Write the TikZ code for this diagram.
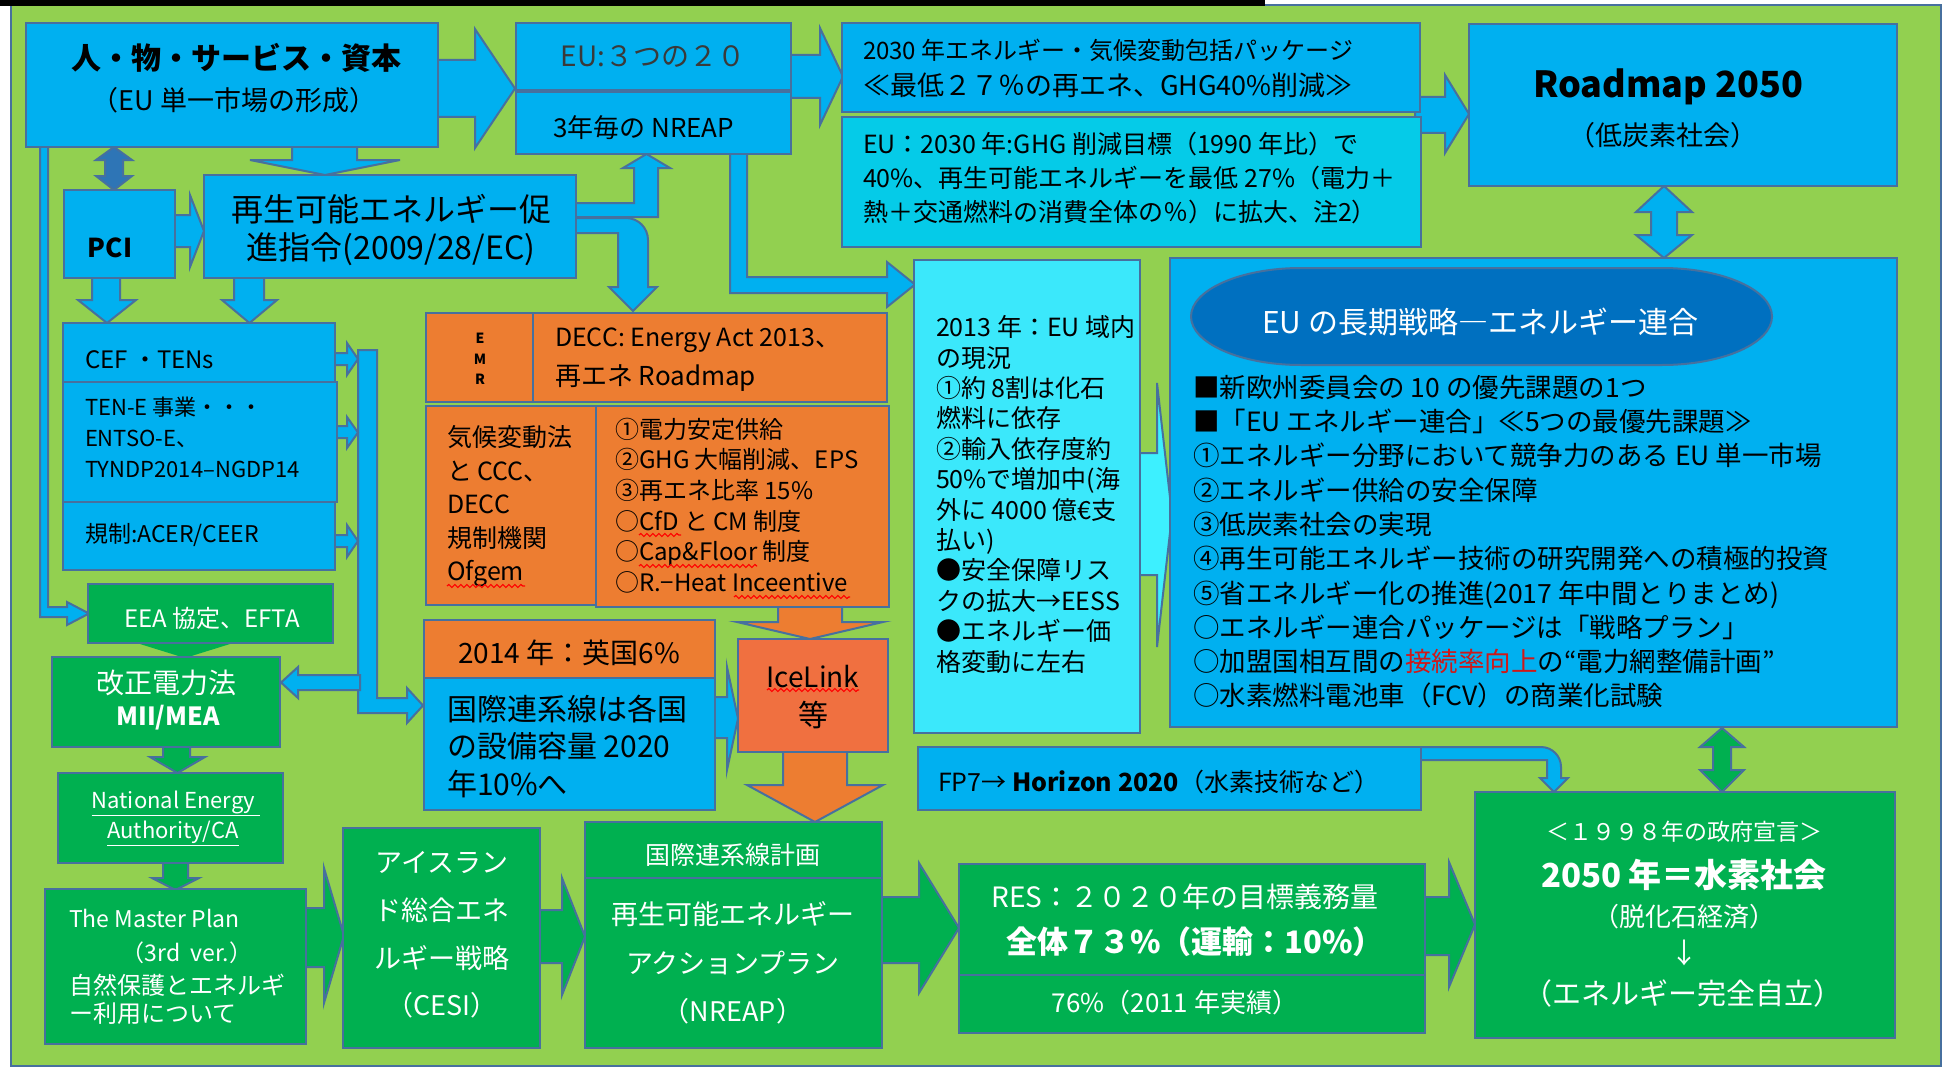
\documentclass[tikz,border=0pt]{standalone}
\usepackage{fontspec}
\setmainfont{Noto Sans CJK JP}
\usetikzlibrary{decorations.pathmorphing}
\definecolor{bg}{HTML}{92D050}
\definecolor{bl}{HTML}{00B0F0}
\definecolor{cyA}{HTML}{05CBE8}
\definecolor{cyB}{HTML}{3BE8FB}
\definecolor{cyC}{HTML}{3DF0FF}
\definecolor{orA}{HTML}{ED7D31}
\definecolor{orB}{HTML}{F07040}
\definecolor{gr}{HTML}{00B050}
\definecolor{db}{HTML}{0070C0}
\definecolor{dbA}{HTML}{2E75B6}
\definecolor{bc}{HTML}{47709E}
\definecolor{rd}{HTML}{D01818}
\definecolor{gt}{HTML}{3A3A3A}
\newcommand\fz[2]{\fontsize{#1}{#2}\selectfont}
\tikzset{
  box/.style={draw=bc, line width=2.5pt, anchor=north west, inner sep=0pt, outer sep=0pt},
  arr/.style={draw=bc, line width=2pt, line join=miter},
  txt/.style={inner sep=0pt, outer sep=0pt, text=black},
  wavy/.style={draw=red, line width=1.2pt, decorate, decoration={snake, amplitude=1.5pt, segment length=6pt}}
}
% box: name x1 y1 x2 y2 fill
\newcommand\bx[6]{\node[box, fill=#6, minimum width={#4-#2}, minimum height={#5-#3}] (#1) at (#2,#3) {};}
% right/left arrow: fill, start x, head base x, tip x, shaft y1, y2, head y1, y2
\newcommand\arrR[8]{\filldraw[arr,fill=#1] (#2,#5) -- (#3,#5) -- (#3,#7) -- ({#4},{(#7+#8)/2}) -- (#3,#8) -- (#3,#6) -- (#2,#6) -- cycle;}
% down/up arrow: fill, start y, head base y, tip y, shaft x1, x2, head x1, x2
\newcommand\arrD[8]{\filldraw[arr,fill=#1] (#5,#2) -- (#6,#2) -- (#6,#3) -- (#8,#3) -- ({(#7+#8)/2},{#4}) -- (#7,#3) -- (#5,#3) -- cycle;}
% vertical double arrow: fill, cx, top, headbase1, headbase2, bottom, shaft half, head half
\newcommand\dblV[8]{\filldraw[arr,fill=#1] (#2,#3) -- ({#2+#8},#4) -- ({#2+#7},#4) -- ({#2+#7},#5) -- ({#2+#8},#5) -- (#2,#6) -- ({#2-#8},#5) -- ({#2-#7},#5) -- ({#2-#7},#4) -- ({#2-#8},#4) -- cycle;}
\begin{document}
\begin{tikzpicture}[x=1pt,y=-1pt]
\useasboundingbox (0,0) rectangle (1948,1070);
\fill[white] (0,0) rectangle (1948,1070);
\filldraw[fill=bg, draw=bc, line width=2pt] (11,5) rectangle (1941,1066);
\fill[black] (0,0) rectangle (1265,6);

% ---------- arrows (drawn below boxes) ----------
\arrR{bl}{430}{475}{515}{60}{117}{29}{148}
\arrR{bl}{785}{820}{843}{55}{98}{28}{125}
\arrR{bl}{1415}{1445}{1469}{97}{133}{75}{153}
\arrD{bl}{140}{160}{175}{292}{357}{250}{400}
\dblV{dbA}{114}{147}{160}{176}{190}{9}{18}
\arrR{bl}{170}{190}{204}{215}{247}{195}{267}
\filldraw[arr,fill=bl] (570,203) -- (634,203) -- (634,168) -- (623,168) -- (646.5,154) -- (670,168) -- (658,168) -- (658,217) -- (570,217) -- cycle;
\filldraw[arr,fill=bl] (570,218) -- (626,218) to[out=0,in=90] (648,240) -- (648,287) -- (657,287) -- (633,311) -- (609,287) -- (618,287) -- (618,233) -- (570,233) -- cycle;
\arrD{bl}{275}{300}{323}{92}{120}{78}{136}
\arrD{bl}{275}{300}{323}{234}{264}{222}{277}
\filldraw[arr,fill=bl] (358,350) -- (377,350) -- (377,698) -- (407,698) -- (407,688) -- (423,705.5) -- (407,723) -- (407,713) -- (358,713) -- cycle;
\arrR{bl}{330}{347}{358}{353}{365}{343}{375}
\arrR{bl}{330}{347}{358}{426}{438}{417}{448}
\arrR{bl}{330}{347}{358}{535}{547}{525}{557}
\arrR{bl}{360}{298}{281}{675}{690}{667}{698}
\filldraw[arr,fill=bl] (40,140) -- (48,140) -- (48,607) -- (67,607) -- (67,602) -- (89,613.5) -- (67,625) -- (67,617) -- (40,617) -- cycle;
\dblV{bl}{1664}{186}{212}{235}{258}{13}{28}
\filldraw[arr,fill=bl] (1415,747) -- (1541,747) to[out=0,in=90] (1561,767) -- (1561,778) -- (1568,778) -- (1554,792) -- (1540,778) -- (1547,778) -- (1547,760) -- (1415,760) -- cycle;
\filldraw[arr,fill=bl] (730,150) -- (747,150) -- (747,277) -- (887,277) -- (887,262) -- (915,284.5) -- (887,307) -- (887,293) -- (730,293) -- cycle;
\arrR{cyC}{1135}{1157}{1172}{453}{575}{383}{647}
\arrR{bl}{710}{727}{738}{697}{738}{667}{770}
\fill[gr] (157,638) -- (203,638) -- (203,644) -- (230,644) -- (185,658) -- (140,644) -- (157,644) -- cycle;
\arrD{gr}{745}{757}{773}{163}{190}{150}{205}
\arrD{gr}{861}{878}{890}{163}{188}{152}{199}
\arrR{gr}{300}{324}{344}{908}{967}{868}{1003}
\arrR{gr}{535}{562}{585}{910}{963}{878}{995}
\arrR{gr}{877}{919}{959}{897}{963}{863}{993}
\arrR{gr}{1420}{1449}{1475}{897}{955}{862}{987}
\dblV{gr}{1722}{728}{747}{770}{792}{9}{22}
\arrD{orA}{600}{622}{639}{778}{842}{737}{883}
\arrD{orA}{748}{785}{822}{783}{847}{747}{883}

% ---------- boxes ----------
\bx{b1}{26}{23}{438}{147}{bl}
\bx{eu3}{516}{23}{791}{90}{bl}
\bx{nreap3}{516}{92}{791}{154}{bl}
\bx{pk2030}{842}{23}{1420}{112}{bl}
\bx{eu2030}{842}{117}{1421}{247}{cyA}
\bx{road}{1469}{24}{1897}{186}{bl}
\bx{pci}{64}{190}{175}{278}{bl}
\bx{red}{204}{175}{576}{278}{bl}
\bx{cef}{63}{323}{335}{382}{bl}
\bx{tene}{63}{382}{337}{502}{bl}
\bx{acer}{63}{502}{335}{570}{bl}
\bx{eea}{88}{584}{333}{643}{gr}
\bx{kaisei}{52}{657}{280}{747}{gr}
\bx{nea}{58}{773}{283}{863}{gr}
\bx{master}{45}{889}{306}{1044}{gr}
\bx{cesi}{343}{828}{540}{1048}{gr}
\bx{plan}{585}{822}{882}{878}{gr}
\bx{nreap}{585}{878}{882}{1048}{gr}
\bx{res}{959}{864}{1425}{975}{gr}
\bx{res76}{959}{975}{1425}{1033}{gr}
\bx{h2050}{1475}{792}{1895}{1038}{gr}
\bx{fp7}{918}{747}{1421}{810}{bl}
\bx{emr}{426}{313}{533}{402}{orA}
\bx{decc}{533}{313}{887}{402}{orA}
\bx{kikou}{426}{406}{596}{605}{orA}
\bx{denryoku}{596}{406}{889}{607}{orA}
\bx{uk}{424}{620}{715}{678}{orA}
\bx{kokusai}{424}{678}{715}{810}{bl}
\bx{ice}{738}{639}{888}{752}{orB}
\bx{eu2013}{914}{260}{1140}{733}{cyB}
\bx{eulong}{1170}{258}{1897}{727}{bl}
\filldraw[fill=db, draw=bc, line width=2pt] (1301,268) -- (1662,268) .. controls (1723,268) and (1772,290) .. (1772,316.5) .. controls (1772,343) and (1723,365) .. (1662,365) -- (1301,365) .. controls (1240,365) and (1191,343) .. (1191,316.5) .. controls (1191,290) and (1240,268) .. (1301,268) -- cycle;

% ---------- texts ----------
\node[txt, font=\bfseries\fz{30}{36}] (t1a) at (236,58) {人・物・サービス・資本};
\node[txt, font=\fz{27}{32}] (t1b) at (234,100) {（EU 単一市場の形成）};
\node[txt, font=\fz{28}{32}, text=gt] (t2) at (653,56) {EU:３つの２０};
\node[txt, anchor=west, font=\fz{26}{30}] (t3) at (553,128) {3年毎の NREAP};
\node[txt, anchor=west, font=\fz{24}{28}] (t4a) at (863,50) {2030 年エネルギー・気候変動包括パッケージ};
\node[txt, anchor=west, font=\fz{27}{30}] (t4b) at (863,85) {≪最低２７％の再エネ、GHG40\%削減≫};
\node[txt, anchor=north west, align=left, font=\fz{25}{34}] (t5) at (863,132.5) {EU：2030 年:GHG 削減目標（1990 年比）で\\40\%、再生可能エネルギーを最低 27\%（電力＋\\熱＋交通燃料の消費全体の％）に拡大、注2）};
\node[txt, font=\bfseries\fz{36}{40}] (t6a) at (1668,87) {Roadmap 2050};
\node[txt, font=\fz{27}{32}] (t6b) at (1663,135) {（低炭素社会）};
\node[txt, font=\bfseries\fz{26}{30}] (t7) at (110,248) {PCI};
\node[txt, anchor=north, align=center, font=\fz{32}{38}] (t8) at (391,194) {再生可能エネルギー促\\進指令(2009/28/EC)};
\node[txt, anchor=west, font=\fz{24}{28}] (t9) at (85,360) {CEF ・TENs};
\node[txt, anchor=north west, align=left, font=\fz{22}{31}] (t10) at (85,397) {TEN-E 事業・・・\\ENTSO-E、\\TYNDP2014–NGDP14};
\node[txt, anchor=west, font=\fz{23}{28}] (t11) at (85,535) {規制:ACER/CEER};
\node[txt, text=white, font=\fz{24}{28}] (t12) at (212,618) {EEA 協定、EFTA};
\node[txt, text=white, font=\fz{28}{32}] (t13a) at (166,683) {改正電力法};
\node[txt, text=white, font=\bfseries\fz{25}{30}] (t13b) at (168,718) {MII/MEA};
\node[txt, text=white, font=\fz{22}{26}] (t14a) at (176,803) {\underline{National Energy }};
\node[txt, text=white, font=\fz{22}{26}] (t14b) at (173,833) {\underline{Authority/CA}};
\node[txt, text=white, anchor=west, font=\fz{23}{28}] (t15a) at (69,918) {The Master Plan};
\node[txt, text=white, font=\fz{23}{28}] (t15b) at (187,953) {（3rd\ \ ver.）};
\node[txt, text=white, anchor=west, font=\fz{24}{28}] (t15c) at (69,985) {自然保護とエネルギ};
\node[txt, text=white, anchor=west, font=\fz{24}{28}] (t15d) at (69,1013) {ー利用について};
\node[txt, text=white, anchor=north, align=center, font=\fz{27}{47.7}] (t16) at (442,851.5) {アイスラン\\ド総合エネ\\ルギー戦略\\（CESI）};
\node[txt, text=white, font=\fz{25}{30}] (t17) at (733,855) {国際連系線計画};
\node[txt, text=white, anchor=north, align=center, font=\fz{27}{48.5}] (t18) at (733,901.5) {再生可能エネルギー\\アクションプラン\\（NREAP）};
\node[txt, text=white, font=\fz{28}{32}] (t19a) at (1185,897) {RES：２０２０年の目標義務量};
\node[txt, text=white, font=\bfseries\fz{31}{36}] (t19b) at (1195,942) {全体７３\%（運輸：10\%）};
\node[txt, text=white, font=\fz{26}{30}] (t20) at (1175,1003) {76\%（2011 年実績）};
\node[txt, anchor=west, font=\fz{25}{30}] (t21) at (938,782) {FP7→ \textbf{Horizon 2020}（水素技術など）};
\node[txt, text=white, font=\fz{23}{28}] (t22a) at (1684,832) {＜１９９８年の政府宣言＞};
\node[txt, text=white, font=\bfseries\fz{33}{38}] (t22b) at (1684,875) {2050 年＝水素社会};
\node[txt, text=white, font=\fz{26}{30}] (t22c) at (1684,917) {（脱化石経済）};
\node[txt, text=white, font=\fz{28}{30}] (t22d) at (1684,953) {↓};
\node[txt, text=white, font=\fz{29}{32}] (t22e) at (1683,993) {（エネルギー完全自立）};
\node[txt, font=\fz{28}{32}] (t23a) at (813,677) {IceLink};
\node[txt, font=\fz{30}{32}] (t23b) at (813,715) {等};
\node[txt, font=\fz{28}{32}] (t24) at (569,653) {2014 年：英国6\%};
\node[txt, anchor=north west, align=left, font=\fz{30}{37.5}] (t25) at (447,695) {国際連系線は各国\\の設備容量 2020\\年10\%へ};
\node[txt, align=center, font=\bfseries\fz{14}{20.5}] (t26) at (480,359) {E\\M\\R};
\node[txt, anchor=west, font=\fz{25}{30}] (t27a) at (555,340) {DECC: Energy Act 2013、};
\node[txt, anchor=west, font=\fz{26}{30}] (t27b) at (555,378) {再エネ Roadmap};
\node[txt, anchor=north west, align=left, font=\fz{25}{33.5}] (t28) at (447,425.5) {気候変動法\\と CCC、\\DECC\\規制機関\\Ofgem};
\node[txt, anchor=north west, align=left, font=\fz{24}{30.6}] (t29) at (615,418) {①電力安定供給\\②GHG 大幅削減、EPS\\③再エネ比率 15\%\\○CfD と CM 制度\\○Cap\&Floor 制度\\○R.−Heat Inceentive};
\node[txt, anchor=north west, align=left, font=\fz{25}{30.4}] (t30) at (936,315.5) {2013 年：EU 域内\\の現況\\①約 8割は化石\\燃料に依存\\②輸入依存度約\\50\%で増加中(海\\外に 4000 億€支\\払い)\\●安全保障リス\\クの拡大→EESS\\●エネルギー価\\格変動に左右};
\node[txt, text=white, font=\fz{30}{34}] (t31) at (1480,322) {EU の長期戦略―エネルギー連合};
\node[txt, anchor=north west, align=left, font=\fz{26.5}{34.3}] (t32) at (1193,375) {■新欧州委員会の 10 の優先課題の1つ\\■「EU エネルギー連合」≪5つの最優先課題≫\\①エネルギー分野において競争力のある EU 単一市場\\②エネルギー供給の安全保障\\③低炭素社会の実現\\④再生可能エネルギー技術の研究開発への積極的投資\\⑤省エネルギー化の推進(2017 年中間とりまとめ)\\○エネルギー連合パッケージは「戦略プラン」\\○加盟国相互間の\textcolor{rd}{接続率向上}の“電力網整備計画”\\○水素燃料電池車（FCV）の商業化試験};

% spell-check squiggles
\draw[wavy] (447,586) -- (525,586);
\draw[wavy] (639,535) -- (681,535);
\draw[wavy] (639,566) -- (757,566);
\draw[wavy] (734,597) -- (850,597);
\draw[wavy] (767,690) -- (859,690);
\end{tikzpicture}
\end{document}
